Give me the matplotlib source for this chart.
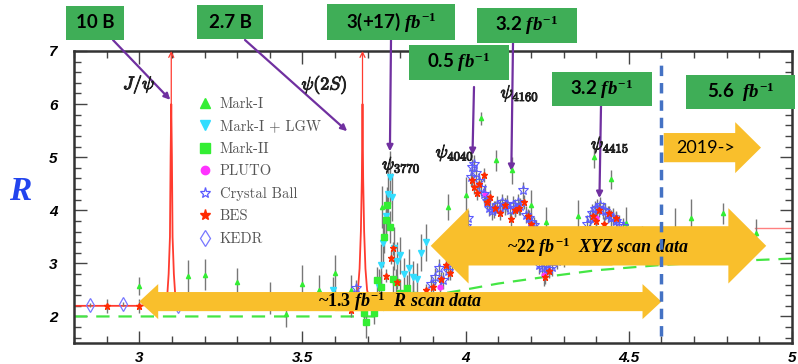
import matplotlib
matplotlib.use('Agg')
import matplotlib.pyplot as plt
import matplotlib.patheffects as pe
from matplotlib.patches import Rectangle, FancyArrow
from matplotlib.lines import Line2D
from matplotlib.ticker import MultipleLocator

plt.rcParams['mathtext.fontset'] = 'custom'
plt.rcParams['mathtext.it'] = 'Liberation Serif:italic:bold'
plt.rcParams['mathtext.rm'] = 'Liberation Serif:bold'
plt.rcParams['mathtext.bf'] = 'Liberation Serif:bold'

W, H = 798, 364

# ---- data ----
# Mark-I
mk1_x = [3.00, 3.15, 3.20, 3.30, 3.40, 3.45, 3.50, 3.55, 3.60, 3.65,
         3.744, 3.945, 4.000, 4.046, 4.094, 4.143, 4.200, 4.247, 4.345, 4.393,
         4.445, 4.490, 4.540, 4.640, 4.690, 4.790, 4.890]
mk1_R = [2.57, 2.77, 2.79, 2.64, 2.35, 2.05, 2.62, 2.49, 2.81, 2.49,
         4.06, 4.06, 4.28, 5.73, 4.94, 4.75, 4.09, 3.77, 3.90, 5.00,
         4.58, 3.76, 3.50, 3.60, 3.85, 3.94, 3.58]
mk1_err = [0.17, 0.30, 0.30, 0.27, 0.30, 0.25, 0.35, 0.30, 0.35, 0.30,
           0.40, 0.25, 0.35, 0.12, 0.20, 0.25, 0.30, 0.30, 0.30, 0.20,
           0.18, 0.30, 0.20, 0.45, 0.36, 0.20, 0.26]

# Mark-I + LGW
lgw_x = [3.595, 3.735, 3.741, 3.748, 3.755, 3.762, 3.768, 3.774, 3.782, 3.790,
         3.800, 3.812, 3.826, 3.840, 3.850, 3.863, 3.880]
lgw_R = [2.49, 2.55, 2.96, 3.38, 3.90, 4.30, 4.62, 4.25, 3.28, 3.05,
         3.15, 2.80, 2.92, 2.74, 2.70, 3.20, 3.40]
lgw_err = [0.25, 0.35, 0.40, 0.45, 0.45, 0.50, 0.50, 0.45, 0.40, 0.35,
           0.35, 0.30, 0.35, 0.30, 0.30, 0.35, 0.35]

# Mark-II
mk2_x = [3.689, 3.695, 3.720, 3.729, 3.740, 3.750, 3.756, 3.760, 3.768, 3.778,
         3.787, 3.800, 3.820, 3.840]
mk2_R = [2.06, 1.89, 2.06, 2.68, 2.55, 3.49, 3.81, 4.09, 3.68, 2.70,
         2.64, 2.45, 2.53, 2.40]
mk2_err = [0.20, 0.30, 0.20, 0.25, 0.30, 0.30, 0.35, 0.35, 0.30, 0.25,
           0.25, 0.25, 0.25, 0.25]

# PLUTO
pluto_x = [3.920, 4.060, 4.200, 4.240, 4.400]
pluto_R = [2.55, 4.30, 3.72, 2.78, 3.85]
pluto_err = 0.2

# Crystal Ball
cb_x = [3.665, 3.893, 3.905, 3.918, 3.930, 3.945, 3.958, 3.972, 3.986, 4.000,
        4.008, 4.015, 4.020, 4.025, 4.032, 4.040, 4.048, 4.056, 4.064, 4.072,
        4.080, 4.088, 4.096, 4.104, 4.112, 4.120, 4.128, 4.136, 4.144, 4.152,
        4.160, 4.168, 4.177, 4.185, 4.193, 4.201, 4.209, 4.217, 4.225, 4.235,
        4.245, 4.255, 4.265, 4.280, 4.300, 4.330, 4.360, 4.372, 4.380, 4.388,
        4.396, 4.404, 4.412, 4.420, 4.428, 4.436, 4.444, 4.452, 4.460, 4.470,
        4.482]
cb_R = [2.53, 2.62, 2.75, 2.92, 2.68, 2.85, 3.00, 3.20, 3.45, 3.70,
        3.85, 4.62, 4.81, 4.88, 4.70, 4.55, 4.42, 4.30, 4.18, 4.05,
        3.98, 4.02, 4.10, 4.05, 4.15, 4.08, 4.12, 4.00, 4.10, 4.05,
        4.15, 4.08, 4.38, 3.92, 3.85, 3.78, 3.72, 3.65, 2.96, 2.92,
        2.95, 2.90, 2.93, 3.05, 3.10, 3.30, 3.55, 3.75, 3.85, 3.95,
        4.02, 4.05, 4.09, 4.00, 3.98, 3.92, 3.85, 3.88, 3.80, 3.75,
        3.70]
cb_err = 0.16

# BES
bes_x = [2.90, 3.00, 3.650, 3.756, 3.772, 3.778, 3.790, 3.810, 3.878, 3.900,
         3.925, 3.940, 3.953, 3.975, 4.018, 4.026, 4.034, 4.042, 4.055, 4.064,
         4.076, 4.090, 4.105, 4.120, 4.140, 4.150, 4.165, 4.180, 4.190, 4.200,
         4.244, 4.255, 4.390, 4.400, 4.410, 4.425, 4.440, 4.460]
bes_R = [2.20, 2.20, 2.12, 2.77, 3.11, 3.28, 2.64, 2.35, 2.49, 2.55,
         2.70, 2.96, 2.81, 3.05, 4.57, 4.43, 4.32, 4.50, 4.66, 4.15,
         4.25, 4.05, 3.95, 4.10, 3.83, 4.00, 4.05, 4.15, 3.90, 3.75,
         2.74, 2.85, 3.90, 3.80, 4.00, 3.75, 3.95, 3.85]
bes_err = 0.13

# KEDR
kedr_x = [2.85, 2.95, 3.12]
kedr_R = [2.21, 2.23, 2.20]
kedr_err = 0.04

# resonance curves (red) and pQCD (green dashed)
jpsi_x = [2.80, 3.00, 3.075, 3.082, 3.086, 3.090, 3.094, 3.096, 3.098,
          3.100, 3.102, 3.106, 3.110, 3.114, 3.121]
jpsi_R = [2.20, 2.20, 2.25, 2.31, 2.42, 2.80, 3.50, 5.00, 6.00,
          5.00, 3.50, 2.80, 2.42, 2.31, 2.25]
psi2s_x = [3.650, 3.664, 3.670, 3.675, 3.679, 3.682, 3.684,
           3.686, 3.689, 3.693, 3.698, 3.704, 3.712]
psi2s_R = [2.25, 2.35, 2.50, 2.90, 3.60, 4.60, 6.00,
           4.60, 3.60, 2.90, 2.50, 2.35, 2.25]
high_x = [4.887, 5.00]
high_R = [3.67, 3.67]
pqcd_x = [2.80, 3.72, 3.74, 3.80, 3.90, 3.985, 4.10, 4.25, 4.40, 4.60, 4.80, 5.00]
pqcd_R = [2.00, 2.00, 2.10, 2.25, 2.40, 2.49, 2.62, 2.75, 2.87, 2.97, 3.04, 3.09]

x_ticks = [3, 3.5, 4, 4.5, 5]
x_tick_labels = ['3', '3.5', '4', '4.5', '5']
y_ticks = [2, 3, 4, 5, 6, 7]
y_tick_labels = ['2', '3', '4', '5', '6', '7']

# colours
c_mk1 = '#33ee33'
c_lgw = '#33ddff'
c_mk2 = '#33ee33'
c_pluto = '#ff33ff'
c_cb = '#5c5cff'
c_bes = '#ff2a00'
c_kedr = '#7777ff'
c_red = '#ff3b2f'
orange = '#f9bf2c'
box_green = '#3fae57'
purple = '#7030a0'
err_grey = '#777777'


def fig_xy(px, py):
    return px / W, 1 - py / H


fig = plt.figure(figsize=(W / 100, H / 100), dpi=100)
ax = fig.add_axes([74 / W, 1 - 343 / H, 718 / W, 292 / H])
ax.set_xlim(2.8, 5.0)
ax.set_ylim(1.5, 7.0)

# curves
ax.plot(pqcd_x, pqcd_R, color='#44e644', lw=1.6, dashes=(6, 4), zorder=2)
ax.plot(jpsi_x, jpsi_R, color=c_red, lw=1.3, zorder=2)
ax.plot(psi2s_x, psi2s_R, color=c_red, lw=1.3, zorder=2)
ax.plot(high_x, high_R, color='#ff8080', lw=1.0, zorder=2)
for xc in [3.098, 3.684]:
    ax.annotate('', xy=(xc, 7.0), xytext=(xc, 6.0),
                arrowprops=dict(arrowstyle='->', color=c_red, lw=0.9,
                                mutation_scale=9, shrinkA=0, shrinkB=0))

# data sets
sets = [
    (mk1_x, mk1_R, mk1_err, dict(marker='^', ms=3, color=c_mk1)),
    (lgw_x, lgw_R, lgw_err, dict(marker='v', ms=5, color=c_lgw)),
    (mk2_x, mk2_R, mk2_err, dict(marker='s', ms=5, color=c_mk2)),
    (pluto_x, pluto_R, pluto_err, dict(marker='o', ms=3.5, color=c_pluto)),
    (cb_x, cb_R, cb_err, dict(marker='*', ms=7, mfc='none', mec=c_cb, mew=0.8)),
    (bes_x, bes_R, bes_err, dict(marker='*', ms=5, color=c_bes)),
    (kedr_x, kedr_R, kedr_err, dict(marker='d', ms=7, mfc='none', mec=c_kedr, mew=0.9)),
]
for xs, rs, es, style in sets:
    ax.errorbar(xs, rs, yerr=es, fmt='none', ecolor=err_grey, elinewidth=1.0,
                capsize=0, zorder=3)
    ax.plot(xs, rs, ls='none', zorder=4, **style)

# legend
handles = [
    Line2D([], [], ls='none', marker='^', ms=7, color=c_mk1, label='Mark-I'),
    Line2D([], [], ls='none', marker='v', ms=7, color=c_lgw, label='Mark-I + LGW'),
    Line2D([], [], ls='none', marker='s', ms=6.5, color=c_mk2, label='Mark-II'),
    Line2D([], [], ls='none', marker='o', ms=6, color=c_pluto, label='PLUTO'),
    Line2D([], [], ls='none', marker='*', ms=8, mfc='none', mec=c_cb, mew=0.9,
           label='Crystal Ball'),
    Line2D([], [], ls='none', marker='*', ms=8, color=c_bes, label='BES'),
    Line2D([], [], ls='none', marker='d', ms=8, mfc='none', mec=c_kedr, mew=0.9,
           label='KEDR'),
]
leg = ax.legend(handles=handles, loc='upper left',
                bbox_to_anchor=((198 - 74) / 718, (343 - 97) / 292),
                frameon=False, prop={'family': 'cmr10', 'size': 10.5},
                labelcolor='#555555', handlelength=1.0, handletextpad=0.5,
                borderpad=0, borderaxespad=0, labelspacing=0.6)
leg.set_zorder(8)

# psi labels
psi_labels = [
    (2.95, 6.36, r'$J/\psi$'),
    (3.497, 6.36, r'$\psi(2S)$'),
    (3.744, 4.85, r'$\psi_{3770}$'),
    (3.908, 5.08, r'$\psi_{4040}$'),
    (4.107, 6.20, r'$\psi_{4160}$'),
    (4.384, 5.23, r'$\psi_{4415}$'),
]
for xl, yl, s in psi_labels:
    ax.text(xl, yl, s, fontsize=13, ha='left', va='center', math_fontfamily='cm',
            color='#222222', zorder=7,
            path_effects=[pe.withStroke(linewidth=0.7, foreground='#222222')])

# orange arrows
def orange_arrow(x_from, x_to, y, shaft, head, head_len):
    ax.add_patch(FancyArrow(x_from, y, x_to - x_from, 0, width=shaft,
                            head_width=head, head_length=head_len,
                            length_includes_head=True, facecolor=orange,
                            edgecolor='none', zorder=6))


orange_arrow(3.70, 3.0, 2.28, 0.36, 0.66, 0.058)
orange_arrow(3.60, 4.6, 2.28, 0.36, 0.66, 0.058)
orange_arrow(4.45, 3.893, 3.33, 0.74, 1.42, 0.116)
orange_arrow(4.35, 4.921, 3.33, 0.74, 1.42, 0.116)
orange_arrow(4.607, 4.905, 5.18, 0.55, 0.96, 0.079)

ax.text(3.80, 2.29, r'~1.3 $fb^{-1}$  $R\ scan\ data$', fontsize=13,
        family='Liberation Serif', fontweight='bold', ha='center', va='center',
        zorder=7)
ax.text(4.405, 3.30, r'~22 $fb^{-1}$  $XYZ\ scan\ data$', fontsize=13,
        family='Liberation Serif', fontweight='bold', ha='center', va='center',
        zorder=7)
ax.text(4.735, 5.18, '2019->', fontsize=13, family='Lato', ha='center',
        va='center', zorder=7)

# blue dashed line (start of 2019 data)
ax.plot([4.6, 4.6], [1.64, 6.87], color='#4472c4', lw=2.5, dashes=(3, 2),
        zorder=7)

# purple arrows from boxes to resonances
purple_arrows = [
    ((113, 40), (3.095, 6.08)),
    ((245, 40), (3.637, 5.49)),
    ((391, 40), (3.768, 5.11)),
    ((474, 87), (4.021, 5.04)),
    ((513, 43), (4.140, 4.74)),
    ((601, 106), (4.410, 4.23)),
]
for start, tip in purple_arrows:
    ax.annotate('', xy=tip, xycoords='data', xytext=fig_xy(*start),
                textcoords='figure fraction', annotation_clip=False,
                arrowprops=dict(arrowstyle='-|>', color=purple, lw=1.6,
                                mutation_scale=9, shrinkA=0, shrinkB=0))

# axes style
ax.set_xticks(x_ticks)
ax.set_xticklabels(x_tick_labels)
ax.set_yticks(y_ticks)
ax.set_yticklabels(y_tick_labels)
ax.xaxis.set_minor_locator(MultipleLocator(0.1))
ax.yaxis.set_minor_locator(MultipleLocator(0.2))
ax.tick_params(which='both', direction='in', top=True, right=True,
               color='#444444', width=1)
ax.tick_params(which='major', length=9)
ax.tick_params(which='minor', length=5)
ax.tick_params(axis='y', pad=12)
ax.tick_params(axis='x', pad=6)
for lab in ax.get_xticklabels() + ax.get_yticklabels():
    lab.set_family('Liberation Sans')
    lab.set_fontweight('bold')
    lab.set_fontstyle('italic')
    lab.set_fontsize(11)
for sp in ax.spines.values():
    sp.set_linewidth(1.8)
    sp.set_color('#333333')

fig.text(20 / W, 1 - 191 / H, 'R', fontsize=24, family='Liberation Serif',
         fontweight='bold', fontstyle='italic', color='#2244ee',
         ha='center', va='center')

# green luminosity boxes
boxes = [
    ('10 B', 66, 6, 124, 40),
    ('2.7 B', 197, 5, 263, 39),
    ('3(+17) $fb^{-1}$', 327, 4, 455, 40),
    ('0.5 $fb^{-1}$', 409, 45, 509, 80),
    ('3.2 $fb^{-1}$', 477, 8, 577, 43),
    ('3.2 $fb^{-1}$', 552, 72, 652, 106),
    ('5.6  $fb^{-1}$', 686, 75, 795, 109),
]
for label, x0, y0, x1, y1 in boxes:
    fig.add_artist(Rectangle((x0 / W, 1 - y1 / H), (x1 - x0) / W, (y1 - y0) / H,
                             transform=fig.transFigure, facecolor=box_green,
                             edgecolor='none', zorder=10))
    fig.text((x0 + x1) / 2 / W, 1 - (y0 + y1) / 2 / H, label, ha='center',
             va='center', fontsize=13.5, fontweight='bold', family='Lato',
             zorder=11)

fig.savefig('out.png', dpi=100)
